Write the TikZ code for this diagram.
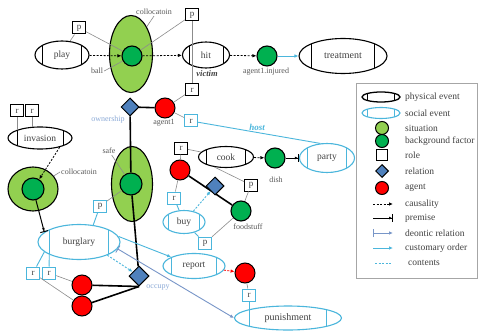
\documentclass[tikz,border=0pt]{standalone}
\usepackage{fontspec}
\setmainfont{Liberation Serif}
\usetikzlibrary{shapes.geometric,arrows.meta,calc}
\definecolor{sitg}{RGB}{146,208,80}
\definecolor{bfg}{RGB}{0,176,80}
\definecolor{agr}{RGB}{255,0,0}
\definecolor{relb}{RGB}{79,129,189}
\definecolor{cy}{RGB}{75,182,220}
\definecolor{deon}{RGB}{120,150,200}
\definecolor{lblgray}{RGB}{90,90,90}
\definecolor{txtc}{RGB}{64,64,64}
\definecolor{lblblue}{RGB}{140,170,215}
\definecolor{conn}{RGB}{140,140,140}
\newcommand\fsz[1]{\fontsize{#1}{#1}\selectfont}
\tikzset{
  evt/.style={ellipse, draw=#1, line width=1.1pt, fill=white, inner sep=0pt, font=\fsz{9.5}, text=txtc,
    path picture={\draw[#1, line width=0.8pt]
      ($(path picture bounding box.north west)!0.14!(path picture bounding box.north east)$) --
      ($(path picture bounding box.south west)!0.14!(path picture bounding box.south east)$)
      ($(path picture bounding box.north west)!0.86!(path picture bounding box.north east)$) --
      ($(path picture bounding box.south west)!0.86!(path picture bounding box.south east)$);}},
  phys/.style={evt=black},
  soc/.style={evt=cy},
  sit/.style={ellipse, draw, line width=1.1pt, fill=sitg, inner sep=0pt},
  bf/.style={circle, draw, line width=1.1pt, fill=bfg, minimum size=#1, inner sep=0pt},
  bf/.default=20pt,
  ag/.style={circle, draw, line width=1pt, fill=agr, minimum size=#1, inner sep=0pt},
  ag/.default=20pt,
  role/.style={rectangle, draw=#1, line width=1pt, fill=white, minimum width=13pt, minimum height=12pt, inner sep=0pt, font=\fsz{9}, text=txtc},
  rel/.style={diamond, aspect=1, draw, line width=1pt, fill=relb, minimum size=#1, inner sep=0pt},
  rel/.default=18pt,
  lbl/.style={font=\fsz{8}, text=lblgray, inner sep=1pt},
  blbl/.style={font=\fsz{8}, text=lblblue, inner sep=1pt},
  legt/.style={font=\fsz{9.5}, text=txtc, anchor=west, inner sep=0pt},
  gline/.style={draw=conn, line width=0.6pt},
  cline/.style={draw=cy, line width=0.9pt},
  rline/.style={draw=black, line width=1.6pt},
  caus/.style={dashed, dash pattern=on 2pt off 1.5pt, line width=0.8pt, -{Latex[length=4pt,width=3.5pt]}},
  prem/.style={line width=1pt, -{Latex[length=3pt,width=3pt]Bar[width=8pt]}},
  deonl/.style={draw=deon, line width=0.9pt, {Bar[width=8pt]}-{Latex[length=4pt,width=3.5pt]}},
  cust/.style={draw=cy, line width=0.9pt, -{Latex[length=4pt,width=3.5pt]}},
  cont/.style={draw=cy, line width=0.9pt, dashed, dash pattern=on 2pt off 1.5pt},
}
\begin{document}
\begin{tikzpicture}[x=1pt,y=-1pt]
\fill[white] (0,0) rectangle (478,331);
\useasboundingbox (0,0) rectangle (478,331);

% ---------- top row ----------
\node[phys, minimum width=54pt, minimum height=28pt] (play) at (62,55) {play};
\node[role=black] (pplay) at (79,28) {p};
\node[sit, minimum width=43pt, minimum height=77pt] (sit1) at (131,54) {};
\node[bf] (ball) at (132,56) {};
\node[lbl] (lcol1) at (154,12) {collocatoin};
\node[lbl] (lball) at (97,71) {ball};
\node[role=black] (phit) at (192,15) {p};
\node[phys, minimum width=47pt, minimum height=26pt] (hit) at (206,55) {hit};
\node[font=\fsz{8.5}\bfseries\itshape, text=txtc] (victim) at (207,74) {victim};
\node[role=black] (rhit) at (192,90) {r};
\node[bf] (inj) at (267,56) {};
\node[lbl] (linj) at (266,72) {agent1.injured};
\node[phys, minimum width=88pt, minimum height=35pt, font=\fsz{10}] (treat) at (343,56) {treatment};

\draw[caus] (play) -- (ball);
\draw[caus] (ball) -- (hit);
\draw[caus] (hit) -- (inj);
\draw[cust] (inj) -- (treat);
\draw[gline] (pplay) -- (play.60);
\draw[gline] (pplay) -- (ball);
\draw[gline] (phit) -- (ball);
\draw[gline] (phit) -- (rhit);
\draw[gline] (lcol1.south) -- (sit1.60);
\draw[gline] (lball.east) -- (ball);

% ---------- agent1 / ownership ----------
\node[ag] (ag1) at (165,108) {};
\node[lbl] (lag1) at (164,123) {agent1};
\node[rel] (own) at (130,107) {};
\node[blbl] (lown) at (108,120) {ownership};
\node[role=cy] (rhost) at (191,121) {r};
\node[font=\fsz{9}\bfseries\itshape, text=cy] (lhost) at (257,127) {host};
\node[soc, minimum width=55pt, minimum height=29pt] (party) at (327,158) {party};
\draw[gline] (rhit) -- (ag1);
\draw[rline] (own) -- (ag1);
\draw[gline] (ag1) -- (rhost);
\draw[cline] (rhost) -- (party.115);

% ---------- safe ----------
\node[sit, minimum width=41pt, minimum height=75pt] (sit2) at (132,184) {};
\node[bf=22pt] (safe) at (131,184) {};
\node[lbl] (lsafe) at (109,151) {safe};
\node[role=cy] (psafe) at (100,206) {p};
\draw[gline] (lsafe) -- (safe);
\draw[gline] (psafe) -- (safe);

% ---------- invasion ----------
\node[role=black] (rinv1) at (17,111) {r};
\node[role=black] (rinv2) at (32,111) {r};
\node[phys, minimum width=64pt, minimum height=22pt] (inv) at (40,138) {invasion};
\node[sit, minimum width=50pt, minimum height=44pt] (sit3) at (33,189) {};
\node[bf=22pt] (bf3) at (33,189) {};
\node[lbl] (lcol2) at (79,172) {collocatoin};
\draw[gline] (rinv1) -- ([shift={(-23,-7.6)}]inv.center);
\draw[gline] (rinv2) -- ([shift={(-8,-10.6)}]inv.center);
\draw[caus] (inv.-25) -- (bf3);
\draw[gline] (lcol2.west) -- (sit3);

% ---------- burglary ----------
\node[soc, minimum width=82pt, minimum height=35pt] (burg) at (79,242) {burglary};
\node[role=cy] (rb1) at (33,273) {r};
\node[role=cy] (rb2) at (49,273) {r};
\node[ag] (a1) at (82,285) {};
\node[ag] (a2) at (82,306) {};
\node[rel=20pt] (occ) at (139,276) {};
\node[blbl] (locc) at (158,287) {occupy};
\draw[prem] (bf3) -- (burg.164);
\draw[cline] (burg.196) -- (rb1);
\draw[cline] (burg.203) -- (rb2);
\draw[gline] (rb2) -- (a1);
\draw[gline] (rb1) -- (a2);
\draw[rline] (a1) -- (occ.south);
\draw[rline] (a2) -- (occ.south);
\draw[rline] (own) -- (safe);
\draw[rline] (safe) -- (occ);
\draw[cline] (psafe) -- (burg.50);
\draw[cont, -{Latex[length=4pt,width=3.5pt]}] (burg.-25) -- (occ);

% ---------- cook / buy ----------
\node[role=black] (rcook) at (181,148) {r};
\node[phys, minimum width=55pt, minimum height=21pt] (cook) at (226,157) {cook};
\node[ag] (acook) at (180,170) {};
\node[role=cy] (rbuy) at (174,198) {r};
\node[soc, minimum width=42pt, minimum height=23pt] (buy) at (184,222) {buy};
\node[bf] (food) at (241,211) {};
\node[lbl] (lfood) at (248,227) {foodstuff};
\node[role=black] (pcook) at (251,185) {p};
\node[role=cy] (pbuy) at (205,243) {p};
\node[bf] (dish) at (275,158) {};
\node[lbl] (ldish) at (276,180) {dish};
\draw[gline] (rcook) -- (acook);
\draw[gline] (rcook) -- (cook);
\draw[gline] (acook) -- (rbuy);
\draw[cline] (rbuy) -- (buy);
\draw[rline] (acook) -- (food);
\node[rel] (buyrel) at (215,186) {};
\draw[cont, -{Latex[length=4pt,width=3.5pt]}] (buy) -- (buyrel);
\draw[gline] (cook.221) -- (pcook);
\draw[gline] (pcook) -- (food);
\draw[caus] (cook) -- (dish);
\draw[prem] (dish) -- (party);
\draw[cline] (buy) -- (pbuy);
\draw[gline] (pbuy) -- (food);

% ---------- report / punishment ----------
\node[soc, minimum width=62pt, minimum height=25pt] (report) at (194,266) {report};
\node[ag] (arep) at (245,273) {};
\node[role=cy] (rpun) at (249,295) {r};
\node[soc, minimum width=107pt, minimum height=24pt, font=\fsz{10}] (pun) at (288,318) {punishment};
\draw[cust] (burg.8) -- (report);
\draw[deonl] (burg.-10) -- (pun.west);
\draw[caus, draw=agr] (report) -- (arep);
\draw[gline] (arep) -- (rpun);
\draw[cline] (rpun) -- ([shift={(-39,-8.2)}]pun.center);

% ---------- legend ----------
\node[draw=gray!70, line width=0.8pt, minimum width=121pt, minimum height=195pt, inner sep=0pt] (legend) at (416.5,180.5) {};
\node[phys, minimum width=38pt, minimum height=10pt, line width=1.3pt] (lg1) at (381,97) {};
\node[soc, minimum width=38pt, minimum height=11pt] (lg2) at (381,113) {};
\node[circle, draw, line width=1pt, fill=sitg, minimum size=13pt, inner sep=0pt] (lg3) at (382,128) {};
\node[circle, draw, line width=1pt, fill=bfg, minimum size=13pt, inner sep=0pt] (lg4) at (382,141) {};
\node[rectangle, draw, line width=1pt, minimum size=11pt, inner sep=0pt] (lg5) at (382,155) {};
\node[rel=13pt] (lg6) at (382,171) {};
\node[circle, draw, line width=1pt, fill=agr, minimum size=13pt, inner sep=0pt] (lg7) at (382,188) {};
\coordinate (c1a) at (373,204); \coordinate (c1b) at (393,204);
\coordinate (c2a) at (373,218); \coordinate (c2b) at (393,218);
\coordinate (c3a) at (373,233); \coordinate (c3b) at (393,233);
\coordinate (c4a) at (373,248); \coordinate (c4b) at (393,248);
\coordinate (c5a) at (375,263); \coordinate (c5b) at (391,263);
\draw[caus] (c1a) -- (c1b);
\draw[prem] (c2a) -- (c2b);
\draw[deonl] (c3a) -- (c3b);
\draw[cust] (c4a) -- (c4b);
\draw[cont] (c5a) -- (c5b);
\node[legt] (t1) at (405,97) {physical event};
\node[legt] (t2) at (405,113) {social event};
\node[legt] (t3) at (405,128) {situation};
\node[legt] (t4) at (405,141) {background factor};
\node[legt] (t5) at (405,155) {role};
\node[legt] (t6) at (405,171) {relation};
\node[legt] (t7) at (405,188) {agent};
\node[legt] (t8) at (405,204) {causality};
\node[legt] (t9) at (405,218) {premise};
\node[legt] (t10) at (405,233) {deontic relation};
\node[legt] (t11) at (405,248) {customary order};
\node[legt] (t12) at (408,263) {contents};
\end{tikzpicture}
\end{document}
